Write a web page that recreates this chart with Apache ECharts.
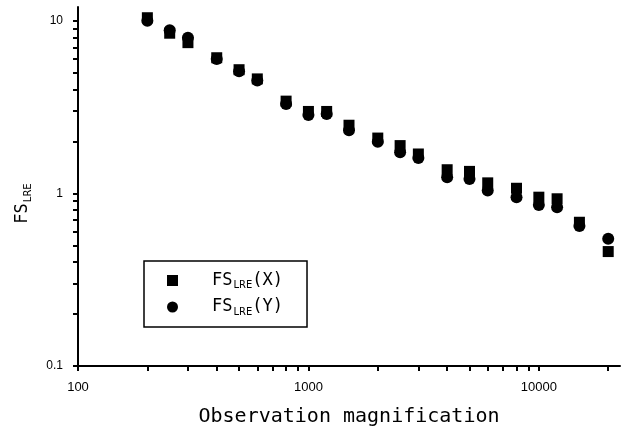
<!DOCTYPE html>
<html><head><meta charset="utf-8">
<script src="https://cdn.jsdelivr.net/npm/echarts@6/dist/echarts.min.js"></script>
<style>html,body{margin:0;padding:0;background:#fff}#c{width:629px;height:428px}</style>
</head><body><div id="c"></div>
<script>
const magnification = [200, 250, 300, 400, 500, 600, 800, 1000, 1200, 1500, 2000, 2500, 3000, 4000, 5000, 6000, 8000, 10000, 12000, 15000, 20000];
const fsLreX = [10.4, 8.46, 7.46, 6.1, 5.2, 4.6, 3.42, 2.98, 2.98, 2.48, 2.09, 1.89, 1.69, 1.37, 1.34, 1.15, 1.07, 0.95, 0.93, 0.68, 0.46];
const fsLreY = [10.0, 8.8, 7.96, 6.0, 5.1, 4.5, 3.29, 2.84, 2.88, 2.32, 1.99, 1.73, 1.60, 1.24, 1.21, 1.04, 0.95, 0.857, 0.83, 0.647, 0.546];
const xTickValues = [100, 200, 300, 400, 500, 600, 700, 800, 900, 1000, 2000, 3000, 4000, 5000, 6000, 7000, 8000, 9000, 10000, 20000];
const xLabelValues = [100, 1000, 10000];
const yTickValues = [0.1, 0.2, 0.3, 0.4, 0.5, 0.6, 0.7, 0.8, 0.9, 1, 2, 3, 4, 5, 6, 7, 8, 9, 10];
const yLabelValues = [0.1, 1, 10];
const seriesNames = ['FS_LRE(X)', 'FS_LRE(Y)'];

const X_MIN = 100, X_MAX = 22500, Y_MIN = 0.1, Y_MAX = 12;
const black = '#000';
const subRich = {
  a: { fontSize: 17, fontFamily: 'DejaVu Sans Mono', color: black, lineHeight: 20 },
  b: { fontSize: 10, fontFamily: 'DejaVu Sans', color: black, verticalAlign: 'bottom', padding: [6, 0, 0, 1] }
};

function pair(xs, ys) { return xs.map((x, i) => [x, ys[i]]); }

const chart = echarts.init(document.getElementById('c'), null, { renderer: 'canvas' });
chart.setOption({
  animation: false,
  backgroundColor: '#fff',
  grid: { left: 78, right: 9, top: 7, bottom: 62, containLabel: false, outerBoundsMode: 'none' },
  xAxis: {
    type: 'log', logBase: 10, min: X_MIN, max: X_MAX, position: 'bottom',
    name: 'Observation magnification', nameLocation: 'middle', nameGap: 41,
    nameTextStyle: { fontSize: 20, fontFamily: 'DejaVu Sans Mono', color: black },
    axisLine: { show: true, lineStyle: { color: black, width: 2 } },
    axisTick: { show: true, interval: 0, customValues: xTickValues, length: 5, lineStyle: { color: black, width: 2 } },
    axisLabel: { show: true, interval: 0, customValues: xLabelValues, color: black, fontSize: 13, fontFamily: 'Liberation Sans', margin: 15,
      formatter: v => String(v) },
    splitLine: { show: false }, minorTick: { show: false }
  },
  yAxis: {
    type: 'log', logBase: 10, min: Y_MIN, max: Y_MAX, position: 'left',
    name: '{a|FS}{b|LRE}', nameLocation: 'middle', nameGap: 45, nameRotate: 90,
    nameTextStyle: { rich: subRich, padding: [0, 34, 0, 0] },
    axisLine: { show: true, lineStyle: { color: black, width: 2 } },
    axisTick: { show: true, interval: 0, customValues: yTickValues, length: 5, lineStyle: { color: black, width: 2 } },
    axisLabel: { show: true, interval: 0, customValues: yLabelValues, color: black, fontSize: 12, fontFamily: 'Liberation Sans', margin: 15,
      formatter: v => String(v) },
    splitLine: { show: false }, minorTick: { show: false }
  },
  legend: {
    orient: 'vertical', left: 144, top: 261,
    itemWidth: 11, itemHeight: 11, itemGap: 8,
    padding: [11, 24, 10, 23],
    borderColor: black, borderWidth: 1.5, backgroundColor: '#fff',
    data: [{ name: seriesNames[0], icon: 'rect' }, { name: seriesNames[1], icon: 'circle' }],
    formatter: n => n === seriesNames[0] ? '{a|FS}{b|LRE}{a|(X)}' : '{a|FS}{b|LRE}{a|(Y)}',
    textStyle: { padding: [0, 0, 0, 29], rich: subRich }
  },
  series: [
    {
      name: seriesNames[0], type: 'scatter',
      symbol: 'rect', symbolSize: 11, itemStyle: { color: black, opacity: 1 },
      data: pair(magnification, fsLreX)
    },
    {
      name: seriesNames[1], type: 'scatter',
      symbol: 'circle', symbolSize: 12, itemStyle: { color: black, opacity: 1 },
      data: pair(magnification, fsLreY)
    }
  ]
});
</script></body></html>
